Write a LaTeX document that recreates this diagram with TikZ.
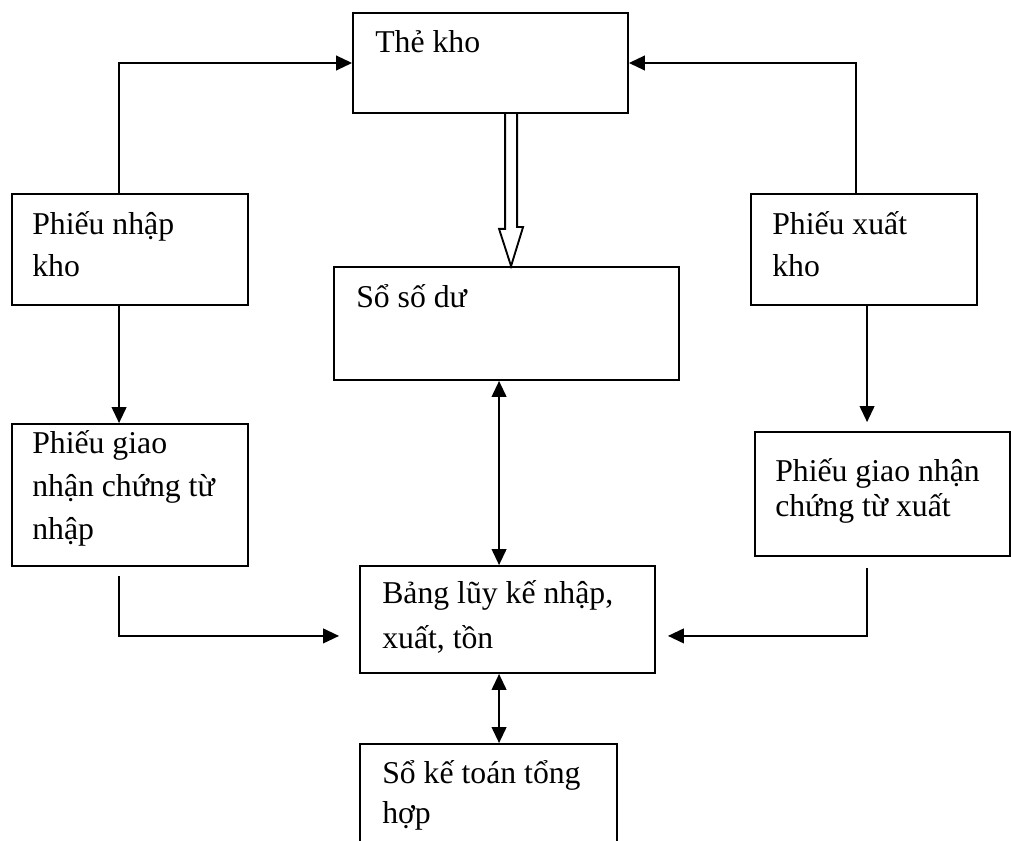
\documentclass[tikz,border=0pt]{standalone}
\usepackage{fontspec}
\setmainfont{Liberation Serif}
\usetikzlibrary{arrows.meta,fit,calc}
\begin{document}
\begin{tikzpicture}[x=0.75pt,y=-0.75pt,
  box/.style={draw, line width=1.4pt, inner sep=0pt},
  txt/.style={anchor=base west, inner sep=0pt, align=left, font=\fontsize{23.8}{#1}\selectfont},
  txt/.default=31.5,
  conn/.style={line width=1.5pt},
  arr/.style={conn,-{Triangle[length=12pt,width=11pt]}},
  darr/.style={conn,{Triangle[length=12pt,width=11pt]}-{Triangle[length=12pt,width=11pt]}}]
\useasboundingbox (0,0) rectangle (1011,841);
\clip (0,0) rectangle (1011,841);
\fill[white] (0,0) rectangle (1011,841);

% boxes
\node[box, fit={(353,13) (628,113)}] (the) {};
\node[box, fit={(12,194) (248,305)}] (pnk) {};
\node[box, fit={(12,424) (248,566)}] (pgn) {};
\node[box, fit={(334,267) (679,380)}] (ssd) {};
\node[box, fit={(360,566) (655,673)}] (bang) {};
\node[box, fit={(360,744) (617,870)}] (skt) {};
\node[box, fit={(751,194) (977,305)}] (pxk) {};
\node[box, fit={(755,432) (1010,556)}] (pgx) {};

% texts (anchor at baseline of last line)
\node[txt] (the-t) at (375,53) {Thẻ kho};
\node[txt=31.5] (pnk-t) at (32,277) {Phiếu nhập\\kho};
\node[txt=32.25] (pgn-t) at (32,540) {Phiếu giao\\nhận chứng từ\\nhập};
\node[txt] (ssd-t) at (356,308) {Sổ số dư};
\node[txt=33.75] (bang-t) at (382,648) {Bảng lũy kế nhập,\\xuất, tồn};
\node[txt=30] (skt-t) at (382,823) {Sổ kế toán tổng\\hợp};
\node[txt=31.5] (pxk-t) at (772,277) {Phiếu xuất\\kho};
\node[txt=26.25] (pgx-t) at (775,517) {Phiếu giao nhận\\chứng từ xuất};

% connector coordinates
\coordinate (dtop) at ($(the.south west)+(159,0)$);
\coordinate (pgnout) at ($(pgn.south west)+(108,9)$);
\coordinate (bangin-l) at ($(bang.south west)+(-20,-38)$);
\coordinate (pgxout) at ($(pgx.south west)+(113,11)$);
\coordinate (bangin-r) at ($(bang.south east)+(12,-38)$);

% connectors
\draw[arr] ($(pnk.north west)+(108,0)$) |- (the.west);
\draw[arr] ($(pxk.north west)+(106,0)$) |- (the.east);
\draw[line width=1.4pt, line join=miter]
  ($(dtop)+(-6,0)$) -- ++(0,115) -- ++(-6,0) -- (dtop |- ssd.north)
  -- ++(12,-39) -- ++(-6,0) -- ($(dtop)+(6,0)$);
\draw[arr] ($(pnk.south west)+(108,0)$) -- ($(pgn.north west)+(108,0)$);
\draw[arr] (pgnout) |- (bangin-l);
\draw[darr] ($(ssd.south west)+(166,0)$) -- ($(bang.north west)+(140,0)$);
\draw[darr] ($(bang.south west)+(140,0)$) -- ($(skt.north west)+(140,0)$);
\draw[arr] ($(pxk.south west)+(117,0)$) -- ($(pgx.north west)+(113,-9)$);
\draw[arr] (pgxout) |- (bangin-r);
\end{tikzpicture}
\end{document}
